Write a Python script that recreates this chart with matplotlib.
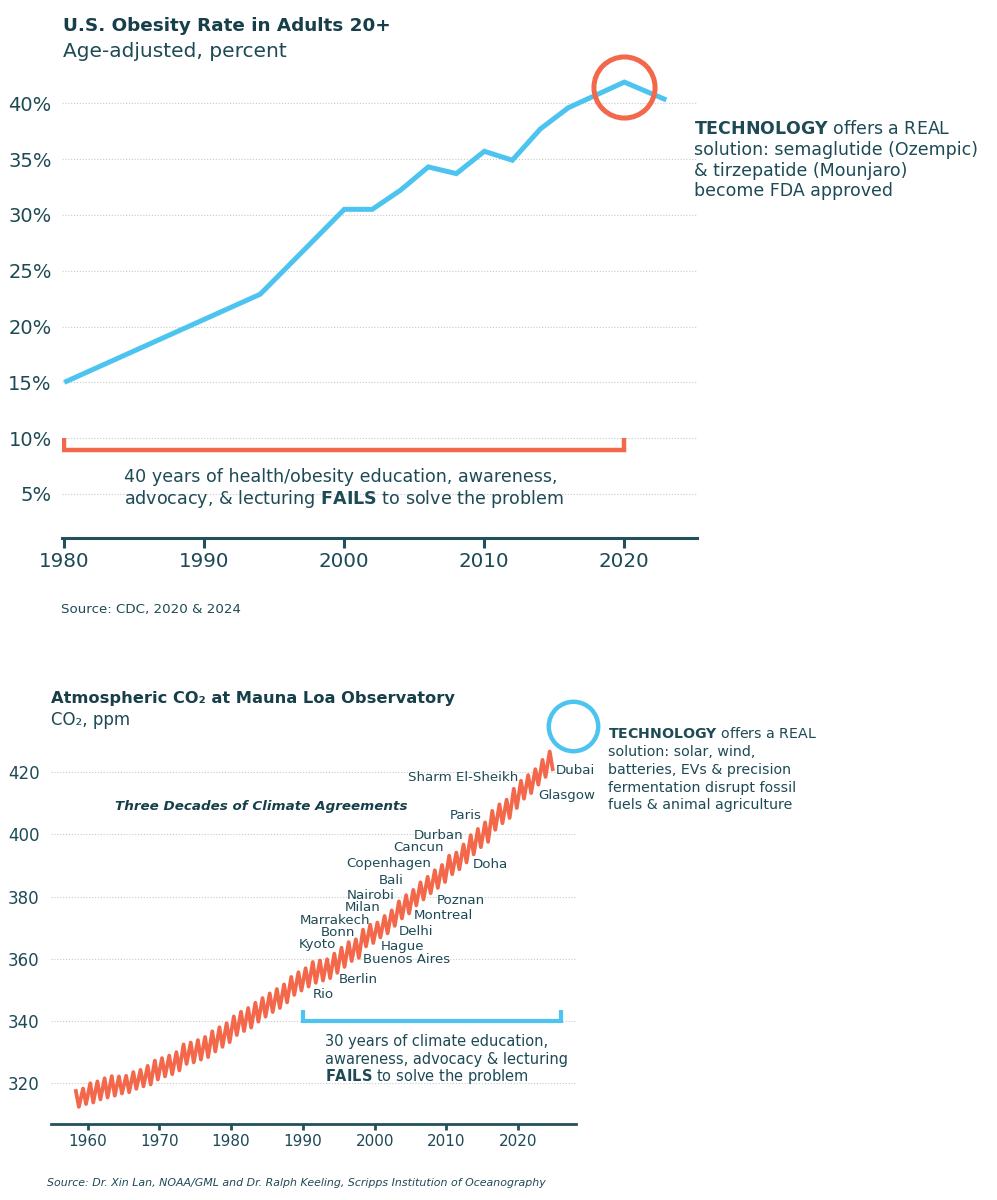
import matplotlib
matplotlib.use("Agg")
import matplotlib.pyplot as plt
from matplotlib.transforms import offset_copy

# ---------------- data ----------------
obesity_years = [1980, 1994, 2000, 2002, 2004, 2006, 2008, 2010, 2012, 2014, 2016, 2020, 2023]
obesity_pct = [15.0, 22.9, 30.5, 30.5, 32.2, 34.3, 33.7, 35.7, 34.9, 37.7, 39.6, 41.9, 40.3]
obesity_yticks = [5, 10, 15, 20, 25, 30, 35, 40]
obesity_xticks = [1980, 1990, 2000, 2010, 2020]
obesity_highlight_year = 2020
education_span = [1980, 2020]

co2_years = list(range(1958, 2025))
co2_may_peak = [
    317.5, 318.3, 320.0, 320.6, 321.6, 322.3, 322.2, 322.4, 323.6, 324.3,
    325.6, 327.3, 328.1, 328.9, 330.0, 332.5, 333.1, 333.9, 334.9, 336.7,
    338.0, 339.3, 341.5, 343.0, 344.2, 345.9, 347.4, 348.9, 350.3, 351.8,
    354.2, 355.7, 357.0, 359.0, 359.5, 359.9, 361.7, 363.6, 365.4, 366.3,
    369.4, 371.0, 371.7, 373.8, 375.6, 378.5, 380.5, 382.2, 384.6, 386.4,
    388.5, 390.2, 393.2, 394.2, 396.8, 399.8, 401.8, 403.9, 407.6, 409.7,
    411.2, 414.7, 417.3, 419.1, 421.0, 424.0, 426.7,
]
co2_autumn_low = [
    312.4, 313.3, 313.8, 314.8, 315.4, 316.0, 316.7, 317.1, 318.2, 319.0,
    319.6, 321.2, 322.2, 322.9, 324.1, 326.2, 326.7, 327.6, 328.4, 330.2,
    331.7, 333.2, 335.5, 336.8, 337.9, 339.8, 341.4, 342.9, 344.2, 346.0,
    348.4, 349.8, 351.1, 352.3, 353.0, 353.8, 355.5, 357.4, 359.3, 360.3,
    364.0, 365.1, 366.9, 368.2, 370.6, 373.0, 374.6, 377.2, 379.1, 381.1,
    382.8, 384.7, 387.2, 388.8, 391.0, 393.6, 395.9, 397.6, 401.5, 403.6,
    405.3, 408.5, 411.5, 413.3, 416.0, 418.5, 421.0,
]
co2_peak_month = 5
co2_low_month = 10
co2_yticks = [320, 340, 360, 380, 400, 420]
co2_xticks = [1960, 1970, 1980, 1990, 2000, 2010, 2020]
climate_span = [1990, 2026]

cop_cities = ["Sharm El-Sheikh", "Dubai", "Glasgow", "Paris", "Durban", "Cancun",
              "Copenhagen", "Doha", "Bali", "Nairobi", "Poznan", "Milan", "Montreal",
              "Marrakech", "Bonn", "Delhi", "Kyoto", "Hague", "Buenos Aires",
              "Berlin", "Rio"]

# ---------------- layout / style ----------------
W, H = 997, 1200
fig = plt.figure(figsize=(W / 100, H / 100), dpi=100)
plt.rcParams['font.family'] = ['DejaVu Sans']
plt.rcParams['mathtext.fontset'] = 'dejavusans'

TITLE = '#173F4A'
TEXT = '#1D4A55'
SPINE = '#22505B'
GRID = '#c9c9c9'
BLUE = '#4DC4F0'
ORANGE = '#F3674B'


def fx(x):
    return x / W


def fy(y):
    return 1 - y / H


def ftext(x, y, s, **kw):
    kw.setdefault('color', TEXT)
    kw.setdefault('va', 'baseline')
    return fig.text(fx(x), fy(y), s, **kw)


def axes_px(x0, x1, ytop, ybot):
    return fig.add_axes([fx(x0), fy(ybot), (x1 - x0) / W, (ybot - ytop) / H])


def style_axes(ax, ylabsize, xlabsize, tick_len, tick_w, spine_w, xpad, ypad):
    for s in ('left', 'top', 'right'):
        ax.spines[s].set_visible(False)
    ax.spines['bottom'].set_color(SPINE)
    ax.spines['bottom'].set_linewidth(spine_w)
    ax.yaxis.grid(True, linestyle=(0, (1, 1.6)), color=GRID, linewidth=0.8)
    ax.xaxis.grid(False)
    ax.set_axisbelow(True)
    ax.tick_params(axis='y', length=0, pad=ypad, labelsize=ylabsize, labelcolor=TEXT)
    ax.tick_params(axis='x', length=tick_len, width=tick_w, color=SPINE, pad=xpad,
                   labelsize=xlabsize, labelcolor=TEXT)
    ax.patch.set_alpha(0)


# ================= TOP CHART =================
ax1 = axes_px(62, 697, 58.65, 538.3)
ax1.set_xlim(1979.84, 2025.19)
ax1.set_ylim(1.03, 44)
style_axes(ax1, 14, 14.3, 7.2, 2.2, 2.2, 2.5, 7.4)
ax1.set_yticks(obesity_yticks)
ax1.set_yticklabels([f"{v}%" for v in obesity_yticks])
ax1.set_xticks(obesity_xticks)
ax1.set_xticklabels([str(v) for v in obesity_xticks])

ax1.plot(obesity_years, obesity_pct, color=BLUE, lw=3.6, solid_joinstyle='miter',
         solid_capstyle='butt', zorder=3)

hi = obesity_years.index(obesity_highlight_year)
ax1.plot([obesity_years[hi]], [obesity_pct[hi]], marker='o', ms=44, mfc='none',
         mec=ORANGE, mew=3.6, clip_on=False, zorder=5,
         transform=offset_copy(ax1.transData, fig=fig, x=0, y=-5, units='dots'))

# bracket
x0, x1 = education_span
ax1.plot([x0, x0, x1, x1], [10.0, 8.9, 8.9, 10.0], color=ORANGE, lw=3.2,
         solid_joinstyle='miter', solid_capstyle='butt', zorder=4)

ftext(63, 30.7, "U.S. Obesity Rate in Adults 20+", fontsize=13.2, fontweight='bold', color=TITLE)
ftext(63, 56.7, "Age-adjusted, percent", fontsize=14.5)

ftext(124, 481.5, "40 years of health/obesity education, awareness,", fontsize=12.6)
ftext(124, 503.5, r"advocacy, & lecturing $\mathbf{FAILS}$ to solve the problem", fontsize=12.6)

tech1 = [r"$\mathbf{TECHNOLOGY}$ offers a REAL",
         "solution: semaglutide (Ozempic)",
         "& tirzepatide (Mounjaro)",
         "become FDA approved"]
for i, line in enumerate(tech1):
    ftext(694, 134.3 + i * 20.7, line, fontsize=12.5)

ftext(61, 612.5, "Source: CDC, 2020 & 2024", fontsize=9.6)

# ================= BOTTOM CHART =================
ax2 = axes_px(50.5, 576, 710.1, 1124.3)
ax2.set_xlim(1954.84, 2028.04)
ax2.set_ylim(306.8, 440)
style_axes(ax2, 12, 11, 4.1, 2.0, 2.0, 2.8, 8)
ax2.set_yticks(co2_yticks)
ax2.set_yticklabels([str(v) for v in co2_yticks])
ax2.set_xticks(co2_xticks)
ax2.set_xticklabels([str(v) for v in co2_xticks])

co2_x, co2_y = [], []
for yr, pk, lo in zip(co2_years, co2_may_peak, co2_autumn_low):
    co2_x += [yr + (co2_peak_month - 0.5) / 12, yr + (co2_low_month - 0.5) / 12]
    co2_y += [pk, lo]
ax2.plot(co2_x, co2_y, color=ORANGE, lw=2.7, solid_joinstyle='round', zorder=3)

ax2.plot([co2_x[-2]], [co2_y[-2]], marker='o', ms=35.6, mfc='none', mec=BLUE,
         mew=3.2, clip_on=False, zorder=5,
         transform=offset_copy(ax2.transData, fig=fig, x=23, y=25, units='dots'))

c0, c1 = climate_span
ax2.plot([c0, c0, c1, c1], [343.6, 340.0, 340.0, 343.6], color=BLUE, lw=3.0,
         solid_joinstyle='miter', solid_capstyle='butt', zorder=4)

ftext(51, 703.3, "Atmospheric CO\u2082 at Mauna Loa Observatory", fontsize=11.7,
      fontweight='bold', color=TITLE)
ftext(51, 725, "CO\u2082, ppm", fontsize=12)
ftext(114.6, 810, "Three Decades of Climate Agreements", fontsize=9.7,
      fontweight='bold', fontstyle='italic', color=TITLE)

# city label anchors (pixel x, text-centre y, alignment)
city_label_pos = [
    (518, 776, 'right'), (556, 769, 'left'), (538, 794, 'left'), (482, 814, 'right'),
    (463, 834, 'right'), (444, 846, 'right'), (431, 862, 'right'), (473, 863, 'left'),
    (404, 879, 'right'), (395, 894, 'right'), (437, 899, 'left'), (380, 906, 'right'),
    (414, 914, 'left'), (370, 919, 'right'), (355, 931, 'right'), (399, 930, 'left'),
    (336, 943, 'right'), (381, 945, 'left'), (363, 958, 'left'), (339, 978, 'left'),
    (313, 993, 'left'),
]
for name, (px, py, ha) in zip(cop_cities, city_label_pos):
    ftext(px, py + 5, name, fontsize=9.6, ha=ha)

tech2 = [r"$\mathbf{TECHNOLOGY}$ offers a REAL",
         "solution: solar, wind,",
         "batteries, EVs & precision",
         "fermentation disrupt fossil",
         "fuels & animal agriculture"]
for i, line in enumerate(tech2):
    ftext(608, 738.5 + i * 17.75, line, fontsize=10.2)

fails2 = ["30 years of climate education,",
          "awareness, advocacy & lecturing",
          r"$\mathbf{FAILS}$ to solve the problem"]
for i, line in enumerate(fails2):
    ftext(325, 1046 + i * 17.65, line, fontsize=10.5)

ftext(47, 1185.5, "Source: Dr. Xin Lan, NOAA/GML and Dr. Ralph Keeling, Scripps Institution of Oceanography",
      fontsize=7.9, fontstyle='italic')

fig.savefig("out.png", dpi=100)
